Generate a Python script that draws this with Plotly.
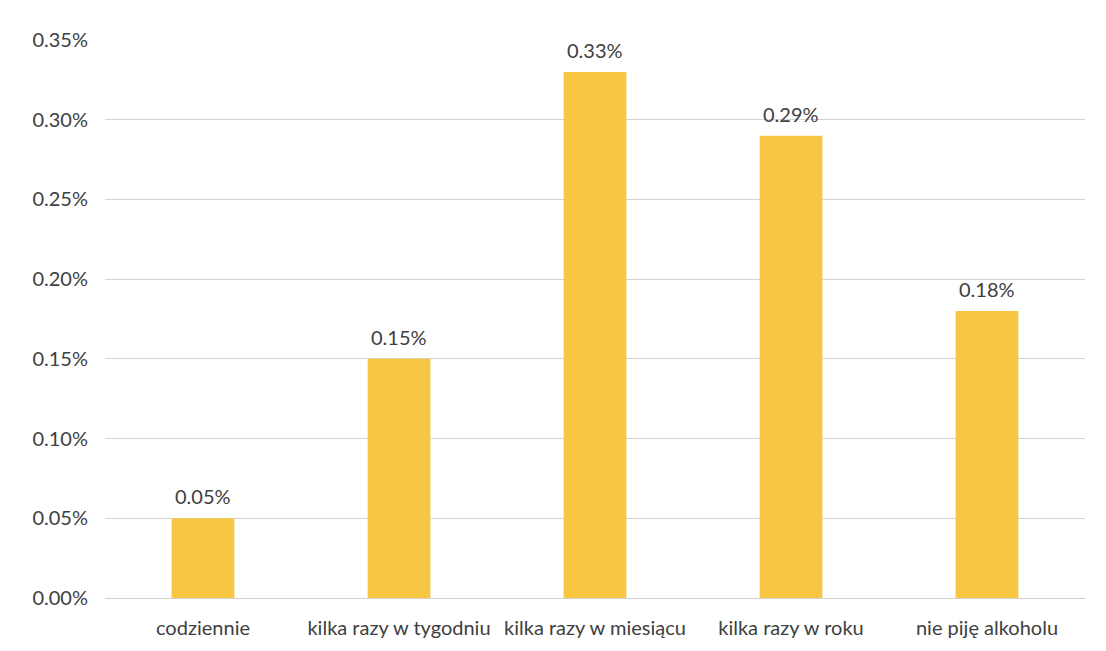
import plotly.graph_objects as go

categories = ["codziennie", "kilka razy w tygodniu", "kilka razy w miesiącu", "kilka razy w roku", "nie piję alkoholu"]
values = [0.05, 0.15, 0.33, 0.29, 0.18]
tick_vals = [0.00, 0.05, 0.10, 0.15, 0.20, 0.25, 0.30, 0.35]
tick_text = ["0.00%", "0.05%", "0.10%", "0.15%", "0.20%", "0.25%", "0.30%", "0.35%"]

fig = go.Figure(go.Bar(
    x=categories, y=values,
    marker=dict(color="#F7C744", line=dict(width=0)),
))
for c, v in zip(categories, values):
    fig.add_annotation(x=c, y=v, text=f"{v:.2f}%", showarrow=False,
                       yanchor="bottom", yshift=8,
                       font=dict(size=20, color="#404040"))
fig.update_layout(
    width=1098, height=643,
    margin=dict(l=97, r=21, t=32, b=53),
    paper_bgcolor="white", plot_bgcolor="white",
    font=dict(family="Lato, Open Sans, sans-serif", size=20, color="#404040"),
    bargap=0.68, showlegend=False,
)
fig.update_yaxes(range=[0, 0.35], tickvals=tick_vals, ticktext=tick_text,
                 showgrid=True, gridcolor="#d4d4d4", gridwidth=1, zeroline=True,
                 zerolinecolor="#d0d0d0", zerolinewidth=1, ticks="", ticklabelstandoff=16, showline=False,
                 tickfont=dict(size=20, color="#404040"))
fig.update_xaxes(showgrid=False, ticks="", showline=False, ticklabelstandoff=16,
                 tickfont=dict(size=20, color="#404040"))
fig.write_html("out.html")
